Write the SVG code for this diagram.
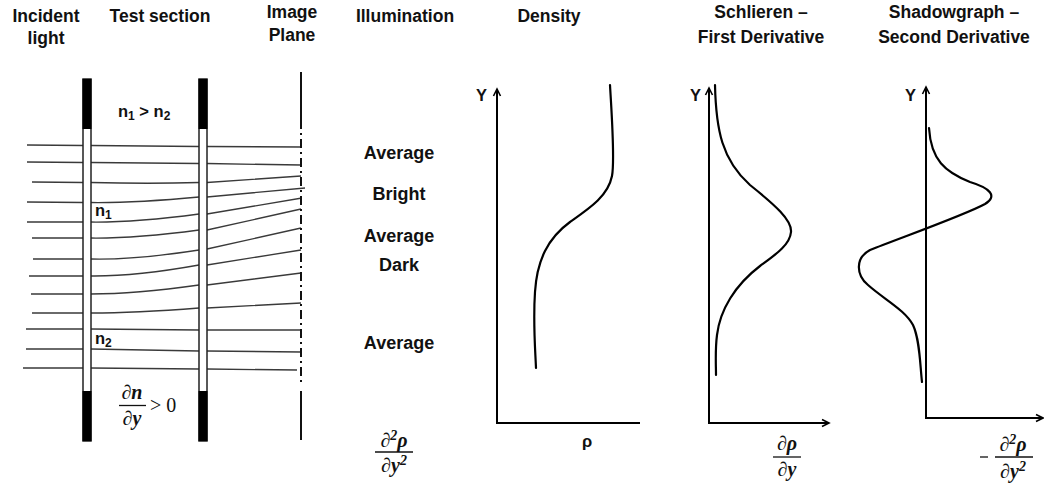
<svg xmlns="http://www.w3.org/2000/svg" width="1044" height="486" viewBox="0 0 1044 486">
<style>
.h{font-family:"Liberation Sans",Arial,sans-serif;font-weight:bold;font-size:17.5px;fill:#111;text-anchor:middle}
.il{font-family:"Liberation Sans",Arial,sans-serif;font-weight:bold;font-size:18px;fill:#111;text-anchor:middle}
.n{font-family:"Liberation Sans",Arial,sans-serif;font-weight:bold;font-size:16.5px;fill:#111}
.m{font-family:"Liberation Serif","Times New Roman",serif;font-style:italic;font-weight:bold;font-size:20px;fill:#111;text-anchor:middle}
.mu{font-family:"Liberation Serif","Times New Roman",serif;font-size:20px;fill:#111}
.ray{fill:none;stroke:#3a3a3a;stroke-width:1.3}
.ax{fill:none;stroke:#000;stroke-width:2}
.cv{fill:none;stroke:#000;stroke-width:2.2;stroke-linecap:round}
.plate{fill:#fff;stroke:#222;stroke-width:1.5}
.blk{fill:#000}
.bar{stroke:#111;stroke-width:1.3}
</style>
<defs>
<marker id="arr" markerUnits="userSpaceOnUse" markerWidth="12" markerHeight="12" refX="9" refY="5" orient="auto">
<path d="M2,1.5 L9,5 L2,8.5" fill="none" stroke="#000" stroke-width="1.6"/>
</marker>
</defs>

<g id="labels">
<text class="h" x="46" y="22">Incident</text>
<text class="h" x="46" y="44">light</text>
<text class="h" x="160" y="22">Test section</text>
<text class="h" x="292" y="18">Image</text>
<text class="h" x="292" y="41">Plane</text>
<text class="h" x="405" y="22">Illumination</text>
<text class="h" x="549" y="22">Density</text>
<text class="h" x="761" y="18">Schlieren –</text>
<text class="h" x="761" y="43">First Derivative</text>
<text class="h" x="954" y="18">Shadowgraph –</text>
<text class="h" x="954" y="43">Second Derivative</text>
</g>

<g id="connectors">
<g id="rays">
<path class="ray" d="M27,145 L83,145.5 M27,162 L83,162.5 M32,182 L83,182.5 M27,202 L83,202.5 M27,222 L83,222 M32,238 L83,238 M33,259 L83,259 M29,276 L83,276 M31,294 L83,294 M32,313 L83,313 M26,329 L83,329 M26,349 L83,349 M23,368 L83,368"/>
<path class="ray" d="M91,145.5 L199,146.5"/>
<path class="ray" d="M91,162.5 L199,163.5"/>
<path class="ray" d="M91,182.5 Q150,184 199,182.5"/>
<path class="ray" d="M91,202.5 Q135,203 199,197"/>
<path class="ray" d="M91,222 Q135,222.5 199,214"/>
<path class="ray" d="M91,238 Q135,238.5 199,230"/>
<path class="ray" d="M91,259 Q135,260 199,250"/>
<path class="ray" d="M91,276 Q135,276.5 199,265"/>
<path class="ray" d="M91,294 Q135,294 199,285"/>
<path class="ray" d="M91,313 Q135,313 199,308"/>
<path class="ray" d="M91,329 L199,330"/>
<path class="ray" d="M91,349 L199,351"/>
<path class="ray" d="M91,368 L199,369"/>
<path class="ray" d="M207,146.5 L301,147 M207,163.5 L301,165 M207,182.5 L301,176 M207,197 L305,188 M207,214 L302,198 M207,230 L301,209 M207,249 L301,228 M207,265 L301,250 M207,285 L301,273 M207,308 L301,303 M207,330 L301,330 M207,351 L301,352 M207,369 L297,370"/>
</g>
</g>

<g id="test-section">
<rect class="plate" x="83" y="79" width="8" height="362"/>
<rect class="blk" x="82.5" y="79" width="9" height="50"/>
<rect class="blk" x="82.5" y="391" width="9" height="50"/>
<rect class="plate" x="199" y="79" width="8" height="362"/>
<rect class="blk" x="198.5" y="79" width="9" height="50"/>
<rect class="blk" x="198.5" y="391" width="9" height="50"/>
<text class="n" x="118" y="117">n<tspan font-size="12" dy="3">1</tspan><tspan dy="-3"> &gt; n</tspan><tspan font-size="12" dy="3">2</tspan></text>
<text class="n" x="95" y="216">n<tspan font-size="12" dy="3">1</tspan></text>
<text class="n" x="95" y="344">n<tspan font-size="12" dy="3">2</tspan></text>
<text class="m" x="132" y="399">∂n</text>
<line class="bar" x1="119" y1="405.5" x2="146" y2="405.5"/>
<text class="m" x="132" y="425">∂y</text>
<text class="mu" x="150" y="412">&gt; 0</text>
</g>

<g id="image-plane">
<line x1="301" y1="72" x2="301" y2="120" stroke="#111" stroke-width="2"/>
<line x1="301" y1="120" x2="301" y2="386" stroke="#111" stroke-width="2" stroke-dasharray="9 4 2 4"/>
<line x1="301" y1="391" x2="301" y2="440" stroke="#111" stroke-width="2"/>
</g>

<g id="illumination">
<text class="il" x="399" y="159">Average</text>
<text class="il" x="399" y="200">Bright</text>
<text class="il" x="399" y="242">Average</text>
<text class="il" x="399" y="271">Dark</text>
<text class="il" x="399" y="349">Average</text>
<text class="m" x="394" y="447">∂<tspan font-size="14" dy="-7">2</tspan><tspan dy="7">ρ</tspan></text>
<line class="bar" x1="375" y1="452" x2="413" y2="452"/>
<text class="m" x="394" y="472">∂y<tspan font-size="14" dy="-7">2</tspan></text>
</g>

<g id="density-graph">
<line class="ax" x1="497" y1="423" x2="497" y2="89" marker-end="url(#arr)"/>
<line class="ax" x1="496" y1="423" x2="640" y2="423"/>
<text class="n" x="476" y="101" font-size="17">Y</text>
<text class="n" x="587" y="447" text-anchor="middle" font-size="18">ρ</text>
<path class="cv" d="M610,85 C612,120 615,160 612,176 C608,196 590,208 570,222 C548,238 537,260 535,292 C533,322 535,345 536,368"/>
</g>

<g id="schlieren-graph">
<line class="ax" x1="709" y1="423" x2="709" y2="88" marker-end="url(#arr)"/>
<line class="ax" x1="708" y1="423" x2="829" y2="423" marker-end="url(#arr)"/>
<text class="n" x="690" y="101" font-size="17">Y</text>
<path class="cv" d="M715,85 C716,130 722,160 750,185 C775,205 792,220 791,232 C790,245 775,255 760,266 C735,285 720,310 717,335 C715,350 716,365 716,375"/>
<text class="m" x="787" y="450">∂ρ</text>
<line class="bar" x1="773" y1="457" x2="801" y2="457"/>
<text class="m" x="787" y="476">∂y</text>
</g>

<g id="shadowgraph-graph">
<line class="ax" x1="926" y1="418" x2="926" y2="87" marker-end="url(#arr)"/>
<line class="ax" x1="925" y1="418" x2="1043" y2="418" marker-end="url(#arr)"/>
<text class="n" x="905" y="101" font-size="17">Y</text>
<path class="cv" d="M929,128 C931,160 945,172 970,182 C990,188 998,196 985,204 C965,215 900,238 870,250 C855,258 856,275 868,285 C885,300 905,310 913,325 C920,340 920,365 922,382"/>
<line x1="980" y1="457" x2="988" y2="457" stroke="#111" stroke-width="1.3"/>
<text class="m" x="1013" y="451">∂<tspan font-size="14" dy="-7">2</tspan><tspan dy="7">ρ</tspan></text>
<line class="bar" x1="995" y1="457" x2="1033" y2="457"/>
<text class="m" x="1013" y="478">∂y<tspan font-size="14" dy="-7">2</tspan></text>
</g>
</svg>
